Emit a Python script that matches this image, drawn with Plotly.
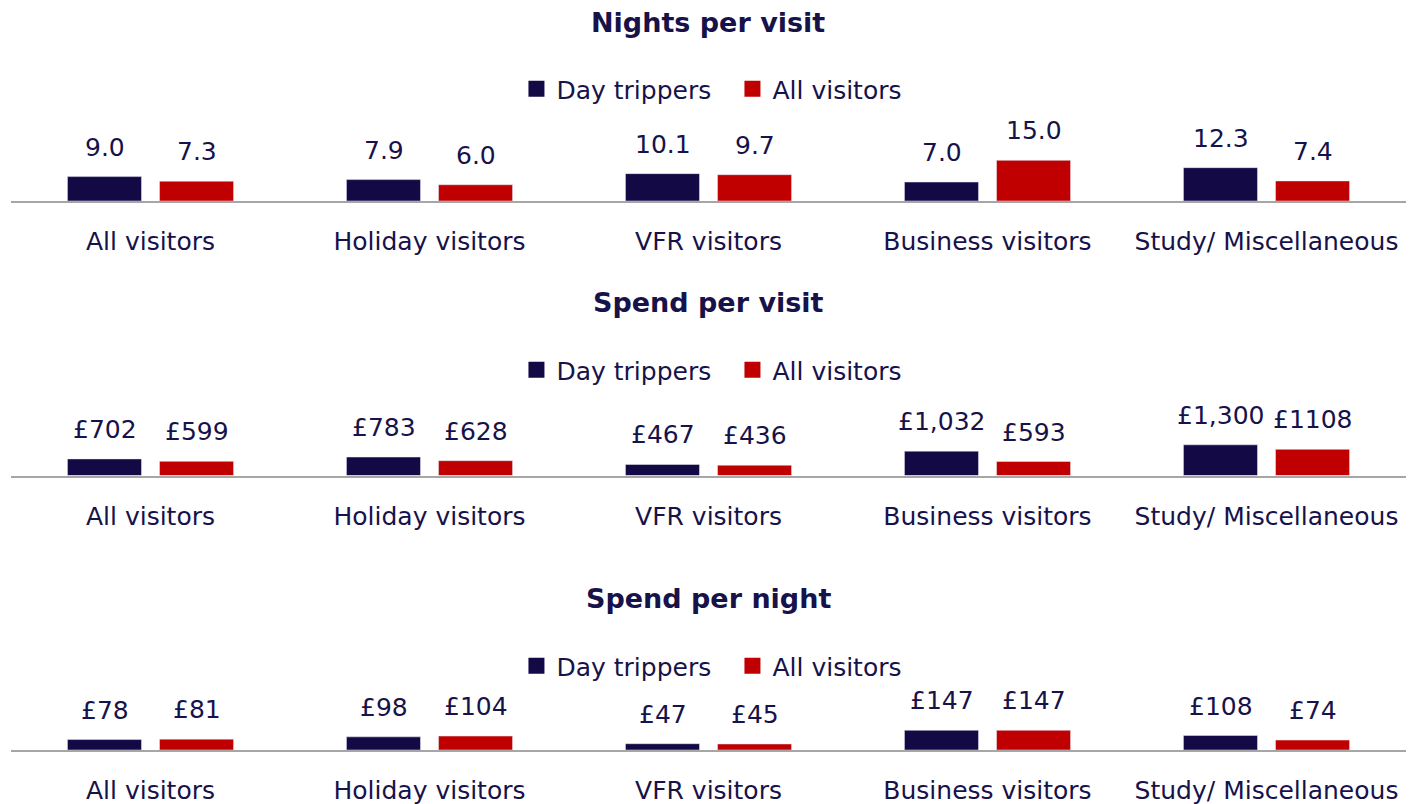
import plotly.graph_objects as go

categories = ["All visitors", "Holiday visitors", "VFR visitors", "Business visitors", "Study/ Miscellaneous"]
series_names = ["Day trippers", "All visitors"]

nights_day = [9.0, 7.9, 10.1, 7.0, 12.3]
nights_all = [7.3, 6.0, 9.7, 15.0, 7.4]
nights_day_lbl = ["9.0", "7.9", "10.1", "7.0", "12.3"]
nights_all_lbl = ["7.3", "6.0", "9.7", "15.0", "7.4"]

spend_visit_day = [702, 783, 467, 1032, 1300]
spend_visit_all = [599, 628, 436, 593, 1108]
spend_visit_day_lbl = ["£702", "£783", "£467", "£1,032", "£1,300"]
spend_visit_all_lbl = ["£599", "£628", "£436", "£593", "£1108"]

spend_night_day = [78, 98, 47, 147, 108]
spend_night_all = [81, 104, 45, 147, 74]
spend_night_day_lbl = ["£78", "£98", "£47", "£147", "£108"]
spend_night_all_lbl = ["£81", "£104", "£45", "£147", "£74"]

panel_titles = ["Nights per visit", "Spend per visit", "Spend per night"]

NAVY = "#130A45"
RED = "#C00000"
TEXT = "#17124A"
FONT = "DejaVu Sans"
W, H = 1414, 804

panels = [
    (nights_day, nights_all, nights_day_lbl, nights_all_lbl),
    (spend_visit_day, spend_visit_all, spend_visit_day_lbl, spend_visit_all_lbl),
    (spend_night_day, spend_night_all, spend_night_day_lbl, spend_night_all_lbl),
]
# layout (pixels from top): baseline, top of plot area, px per unit, title y, legend y
geom = [
    (201, 120, 2.71, 22, 89),
    (475.5, 400, 0.0236, 302, 370),
    (750, 690, 0.134, 598, 666),
]

fig = go.Figure()
annotations = []
x_dom = [11 / W, 1406 / W]

for i, ((dvals, avals, dl, al), (base, top, ppu, ty, ly)) in enumerate(zip(panels, geom)):
    n = "" if i == 0 else str(i + 1)
    xa, ya = "x" + n, "y" + n
    leg = "legend" + n
    fig.add_trace(go.Bar(x=categories, y=dvals, name=series_names[0], marker_color=NAVY,
                         xaxis=xa, yaxis=ya, showlegend=False, hoverinfo="skip"))
    fig.add_trace(go.Bar(x=categories, y=avals, name=series_names[1], marker_color=RED,
                         xaxis=xa, yaxis=ya, showlegend=False, hoverinfo="skip"))
    # legend entries
    for nm, col in zip(series_names, [NAVY, RED]):
        fig.add_trace(go.Scatter(x=[None], y=[None], mode="markers", name=nm,
                                 marker=dict(symbol="square", size=18, color=col),
                                 xaxis=xa, yaxis=ya, legend=leg, showlegend=True))
    dom = [1 - base / H, 1 - top / H]
    rng_max = (base - top) / ppu
    fig.layout["xaxis" + n] = dict(domain=x_dom, anchor=ya, showline=True, linecolor="#A6A6A6",
                                   linewidth=2, showgrid=False, zeroline=False, ticks="",
                                   ticklabelstandoff=17,
                                   tickfont=dict(family=FONT, size=25, color=TEXT),
                                   fixedrange=True)
    fig.layout["yaxis" + n] = dict(domain=dom, anchor=xa, range=[0, rng_max], visible=False,
                                   fixedrange=True)
    fig.layout[leg] = dict(orientation="h", x=0.518, xanchor="center", y=1 - ly / H, yanchor="middle",
                           font=dict(family=FONT, size=25, color=TEXT), bgcolor="rgba(0,0,0,0)",
                           itemsizing="trace", entrywidth=171, entrywidthmode="pixels")
    annotations.append(dict(text="<b>" + panel_titles[i] + "</b>", x=0.501, xref="paper",
                            y=1 - ty / H, yref="paper", yanchor="middle", showarrow=False,
                            font=dict(family=FONT, size=27, color=TEXT)))
    for vals, lbls, shift in ((dvals, dl, -46), (avals, al, 46)):
        for c, v, t in zip(categories, vals, lbls):
            annotations.append(dict(text=t, x=c, y=v, xref=xa, yref=ya, xshift=shift, yshift=13,
                                    yanchor="bottom", showarrow=False,
                                    font=dict(family=FONT, size=25, color=TEXT)))

fig.update_layout(width=W, height=H, margin=dict(l=0, r=0, t=0, b=0),
                  paper_bgcolor="white", plot_bgcolor="white",
                  barmode="group", bargap=0.34, bargroupgap=0.196,
                  annotations=annotations)

fig.write_html("out.html", config={"displayModeBar": False},
               post_script="document.body.style.margin='0';document.body.style.overflow='hidden';")
